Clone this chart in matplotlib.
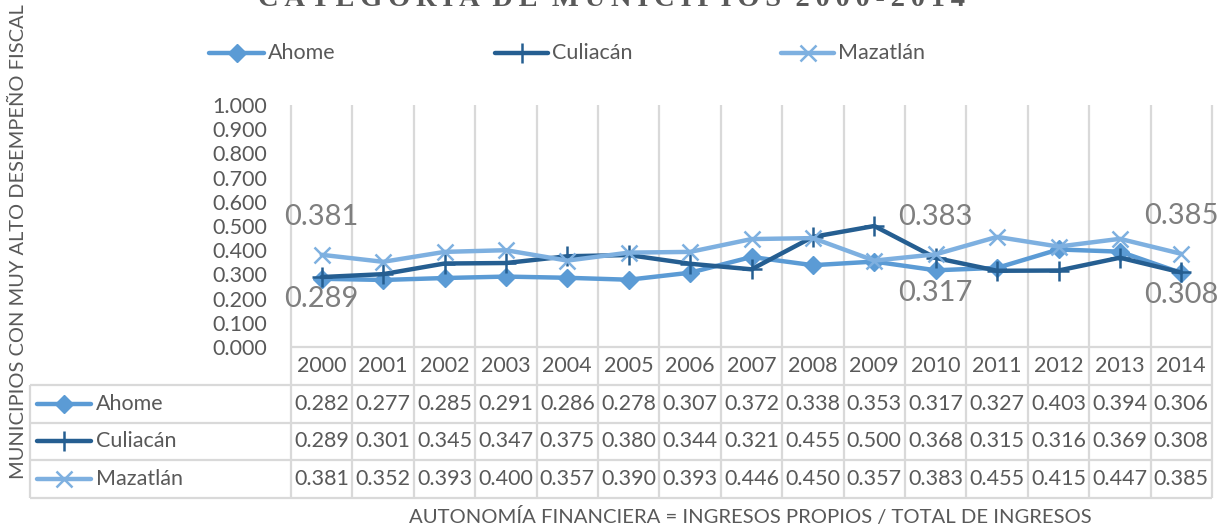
import matplotlib
matplotlib.use("Agg")
import matplotlib.pyplot as plt

# data
years = [2000, 2001, 2002, 2003, 2004, 2005, 2006, 2007,
         2008, 2009, 2010, 2011, 2012, 2013, 2014]
ahome = [0.282, 0.277, 0.285, 0.291, 0.286, 0.278, 0.307, 0.372,
         0.338, 0.353, 0.317, 0.327, 0.403, 0.394, 0.306]
culiacan = [0.289, 0.301, 0.345, 0.347, 0.375, 0.380, 0.344, 0.321,
            0.455, 0.500, 0.368, 0.315, 0.316, 0.369, 0.308]
mazatlan = [0.381, 0.352, 0.393, 0.400, 0.357, 0.390, 0.393, 0.446,
            0.450, 0.357, 0.383, 0.455, 0.415, 0.447, 0.385]
names = ["Ahome", "Culiacán", "Mazatlán"]
yticks = [0.0, 0.1, 0.2, 0.3, 0.4, 0.5, 0.6, 0.7, 0.8, 0.9, 1.0]

# (series, year index, above?) for the labelled points
callouts = [(2, 0, True), (1, 0, False),
            (2, 10, True), (0, 10, False),
            (2, 14, True), (1, 14, False)]

FONT = "Lato"
TXT = "#595959"
GRID = "#D9D9D9"
FS = 15.5
styles = [
    dict(color="#5B9BD5", marker="D", ms=9.5, mew=1.0),
    dict(color="#255E91", marker="+", ms=14, mew=1.8),
    dict(color="#7EB0E0", marker="x", ms=12, mew=1.8),
]
series = [ahome, culiacan, mazatlan]

W, H = 1225, 531
fig = plt.figure(figsize=(W / 100, H / 100), dpi=100)
fig.patch.set_facecolor("white")

def box(x0, y0, x1, y1):
    return [x0 / W, 1 - y1 / H, (x1 - x0) / W, (y1 - y0) / H]

# plot area
ax = fig.add_axes(box(291, 105, 1212, 347))
n = len(years)
xs = list(range(n))
ax.set_xlim(-0.5, n - 0.5)
ax.set_ylim(0, 1)
for s in ax.spines.values():
    s.set_visible(False)
ax.set_xticks([])
ax.set_yticks(yticks)
ax.set_yticklabels([f"{v:.3f}" for v in yticks], fontfamily=FONT,
                   fontsize=FS, color=TXT)
ax.tick_params(axis="y", length=0, pad=17)
ax.vlines([i - 0.5 for i in range(n + 1)], 0, 1, color=GRID, lw=1.6,
          zorder=0, clip_on=False)

for vals, st in zip(series, styles):
    ax.plot(xs, vals, lw=3.2, solid_capstyle="round", zorder=3,
            clip_on=False, **st)

for si, xi, above in callouts:
    v = series[si][xi]
    ax.annotate(f"{v:.3f}", (xi, v), xytext=(0, 27 if above else -16),
                textcoords="offset points", ha="center", va="center",
                fontsize=21, color="#7F7F7F", fontfamily=FONT, zorder=4)

# data table under the plot
tab = fig.add_axes(box(30, 347, 1212, 498))
left = -0.5 - 261 / 61.4
tab.set_xlim(left, n - 0.5)
tab.set_ylim(0, 4)
tab.axis("off")
tab.vlines([i - 0.5 for i in range(n + 1)], 0, 4, color=GRID, lw=1.6,
           clip_on=False)
tab.vlines([left], 0, 3, color=GRID, lw=1.6, clip_on=False)
tab.hlines([0, 1, 2, 3], left, n - 0.5, color=GRID, lw=1.6, clip_on=False)
tab.hlines([4], -0.5, n - 0.5, color=GRID, lw=1.6, clip_on=False)

for i, yr in enumerate(years):
    tab.text(i, 3.5, str(yr), ha="center", va="center", fontsize=FS,
             color=TXT, fontfamily=FONT)
for r, (nm, vals, st) in enumerate(zip(names, series, styles)):
    yc = 2.5 - r
    tab.plot([left + 0.12, left + 0.99], [yc, yc], lw=3.2,
             solid_capstyle="round", markevery=[], **st)
    tab.plot([left + 0.555], [yc], ls="none", **st)
    tab.text(left + 1.08, yc, nm, ha="left", va="center", fontsize=FS,
             color=TXT, fontfamily=FONT)
    for i, v in enumerate(vals):
        tab.text(i, yc, f"{v:.3f}", ha="center", va="center",
                 fontsize=FS, color=TXT, fontfamily=FONT)

# overlay in pixel units for title, legend and axis titles
ov = fig.add_axes([0, 0, 1, 1])
ov.set_xlim(0, W)
ov.set_ylim(H, 0)
ov.axis("off")
ov.patch.set_alpha(0)

title = "\u2009".join("CATEGORÍA DE MUNICIPIOS 2000-2014").replace("\u2009 \u2009", "  ")
ov.text(612, 6, title, ha="center", va="baseline", fontsize=20.5,
        fontweight="bold", color=TXT,
        fontfamily=["Liberation Serif", "DejaVu Serif"])

legend_x = [(209, 264), (495, 548), (781, 834)]
for (x0, x1), nm, st in zip(legend_x, names, styles):
    ov.plot([x0, x1], [53, 53], lw=3.2, solid_capstyle="round",
            markevery=[], **st)
    ov.plot([(x0 + x1) / 2], [53], ls="none", **st)
    ov.text(x1 + 4, 53, nm, ha="left", va="center", fontsize=FS,
            color=TXT, fontfamily=FONT)

ov.text(18, 242, "MUNICIPIOS CON MUY ALTO DESEMPEÑO FISCAL", rotation=90,
        ha="center", va="center", fontsize=14.4, color=TXT, fontfamily=FONT)
ov.text(750, 516, "AUTONOMÍA FINANCIERA = INGRESOS PROPIOS / TOTAL DE INGRESOS",
        ha="center", va="center", fontsize=14.6, color=TXT, fontfamily=FONT)

fig.savefig("out.png", dpi=100, facecolor="white")
